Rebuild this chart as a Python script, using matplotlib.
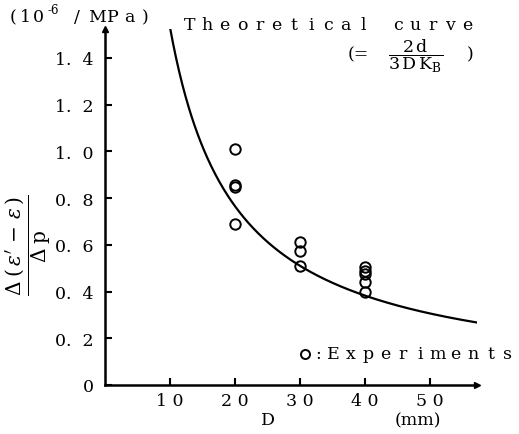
import numpy as np
import matplotlib
matplotlib.use("Agg")
import matplotlib.pyplot as plt

plt.rcParams["font.family"] = ["DejaVu Serif"]
plt.rcParams["mathtext.fontset"] = "dejavuserif"

# 実験値（D [mm] ごとの測定点）
d_exp = [20, 20, 20, 20, 30, 30, 30, 40, 40, 40, 40, 40]
v_exp = [1.010, 0.856, 0.848, 0.689, 0.612, 0.574, 0.509,
         0.505, 0.490, 0.475, 0.440, 0.400]
# 理論曲線 2d/(3 D K_B) = K_THEO / D
K_THEO = 15.3
xticks = [10, 20, 30, 40, 50]
xtick_labels = ["1 0", "2 0", "3 0", "4 0", "5 0"]
yticks = [0, 0.2, 0.4, 0.6, 0.8, 1.0, 1.2, 1.4]
ytick_labels = ["0", "0.  2", "0.  4", "0.  6", "0.  8", "1.  0", "1.  2", "1.  4"]

W, H = 519, 435
fig = plt.figure(figsize=(W / 100, H / 100), dpi=100)
ax = fig.add_axes([105 / W, 49 / H, 372 / W, 356 / H])


def fx(x):
    return x / W


def fy(y):
    return 1 - y / H


def spaced(x0, y, s, pitch, size=12.5):
    for i, c in enumerate(s):
        if c != " ":
            fig.text(fx(x0 + i * pitch), fy(y), c, ha="center", va="center",
                     fontsize=size)


D = np.linspace(10.0, 57.2, 300)
ax.plot(D, K_THEO / D, color="black", lw=1.6)
ax.plot(d_exp, v_exp, "o", mfc="none", mec="black", mew=1.4, ms=7.5)

ax.set_xlim(0, 57.2)
ax.set_ylim(0, 1.524)
for s in ("top", "right"):
    ax.spines[s].set_visible(False)
for s in ("left", "bottom"):
    ax.spines[s].set_linewidth(1.8)
ax.plot(1, 0, ">k", ms=5, transform=ax.transAxes, clip_on=False)
ax.plot(0, 1, "^k", ms=4, transform=ax.transAxes, clip_on=False)

ax.set_xticks(xticks)
ax.set_xticklabels(xtick_labels)
ax.set_yticks(yticks)
ax.set_yticklabels(ytick_labels)
ax.tick_params(direction="in", length=5, width=1.5, labelsize=12.5)
ax.tick_params(axis="x", pad=5)
ax.tick_params(axis="y", pad=8)

# 単位
spaced(13, 18, "(10", 12.5)
fig.text(fx(53), fy(11), "-6", ha="center", va="center", fontsize=8.5)
spaced(77, 18, "/", 1)
spaced(97, 18, "MPa)", 16)

spaced(190, 25, "Theoretical curve", 17.3)
fig.text(fx(358), fy(55), "(=", ha="center", va="center", fontsize=12.5)
fig.text(fx(416), fy(56), r"$\dfrac{2\,\mathrm{d}}{3\,\mathrm{D}\,\mathrm{K_B}}$",
         ha="center", va="center", fontsize=12.5)
fig.text(fx(470), fy(55), ")", ha="center", va="center", fontsize=12.5)

ax.plot([fx(305)], [fy(355)], "o", mfc="none", mec="black", mew=1.4, ms=6.5,
        transform=fig.transFigure, clip_on=False)
fig.text(fx(318), fy(355), ":", ha="center", va="center", fontsize=12.5)
spaced(333, 355, "Experiments", 17.5)

fig.text(fx(268), fy(421), "D", ha="center", va="center", fontsize=12.5)
fig.text(fx(418), fy(421), "(mm)", ha="center", va="center", fontsize=12.5)

fig.text(fx(28), fy(245),
         r"$\dfrac{\Delta\;(\,\varepsilon^{\prime}\,-\,\varepsilon\,)}{\Delta\;\mathrm{p}}$",
         ha="center", va="center", rotation=90, fontsize=14.5)

fig.savefig("out.png", dpi=100)
